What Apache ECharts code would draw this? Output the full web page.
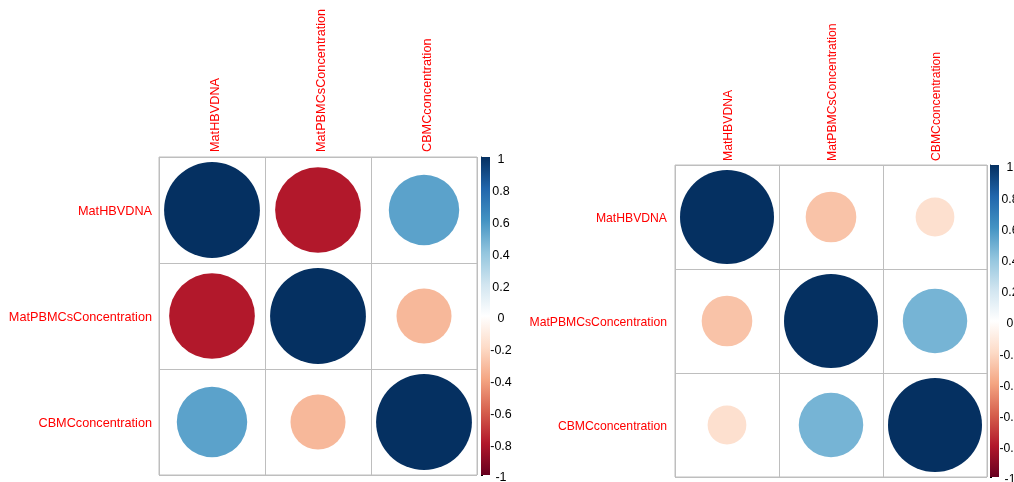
<!DOCTYPE html>
<html>
<head>
<meta charset="utf-8">
<script src="https://cdn.jsdelivr.net/npm/echarts@6/dist/echarts.min.js"></script>
<style>
  html, body { margin: 0; padding: 0; background: #ffffff; }
  #chart { width: 1014px; height: 482px; }
</style>
</head>
<body>
<div id="chart"></div>
<script>
// Variable names shared by both correlation matrices
const variables = ["MatHBVDNA", "MatPBMCsConcentration", "CBMCconcentration"];

// Correlation matrix, left panel (rows follow `variables`)
const corrLeftRow1 = [1.00, -0.80, 0.54];
const corrLeftRow2 = [-0.80, 1.00, -0.33];
const corrLeftRow3 = [0.54, -0.33, 1.00];

// Correlation matrix, right panel
const corrRightRow1 = [1.00, -0.29, -0.17];
const corrRightRow2 = [-0.29, 1.00, 0.47];
const corrRightRow3 = [-0.17, 0.47, 1.00];

// Colour-bar ticks and the diverging RdBu palette (from -1 to 1)
const colorbarMin = -1;
const colorbarMax = 1;
const colorbarStep = 0.2;
const rdBu = ["#67001F", "#B2182B", "#D6604D", "#F4A582", "#FDDBC7", "#FFFFFF",
              "#D1E5F0", "#92C5DE", "#4393C3", "#2166AC", "#053061"];

const FONT = "Liberation Sans, Arial, Helvetica, sans-serif";
const GRID_LINE = "#BEBEBE";

function toCells(rows) {
  const cells = [];
  rows.forEach((row, r) => row.forEach((v, c) => cells.push([c, r, v])));
  return cells;
}

const leftCells = toCells([corrLeftRow1, corrLeftRow2, corrLeftRow3]);
const rightCells = toCells([corrRightRow1, corrRightRow2, corrRightRow3]);

// Circle area proportional to |r|, centred in its cell
function circleItem(params, api) {
  const center = api.coord([api.value(0), api.value(1)]);
  const size = api.size([1, 1]);
  const r = 0.452 * Math.min(size[0], size[1]) * Math.sqrt(Math.abs(api.value(2)));
  return {
    type: "circle",
    shape: { cx: center[0], cy: center[1], r: r },
    style: { fill: api.visual("color") }
  };
}

// Colour bar: one gradient strip spanning the value axis
function colorbarItem(params, api) {
  const top = api.coord([0, colorbarMax]);
  const bottom = api.coord([1, colorbarMin]);
  const stops = rdBu.map((c, i) => ({ offset: 1 - i / (rdBu.length - 1), color: c }));
  return {
    type: "rect",
    shape: { x: top[0], y: top[1], width: bottom[0] - top[0], height: bottom[1] - top[1] },
    style: { fill: new echarts.graphic.LinearGradient(0, 0, 0, 1, stops.reverse()) }
  };
}

function matrixAxes(gridIndex, fontSize, xMargin, yMargin, xShift) {
  return {
    x: {
      type: "category", gridIndex: gridIndex, data: variables, position: "top",
      axisLine: { show: false }, axisTick: { show: false },
      splitLine: { show: true, lineStyle: { color: GRID_LINE, width: 1 } },
      axisLabel: {
        rotate: -90, color: "#FF0000", fontSize: fontSize, fontFamily: FONT,
        margin: xMargin, verticalAlign: "top", lineHeight: xShift, interval: 0
      }
    },
    y: {
      type: "category", gridIndex: gridIndex, data: variables, inverse: true,
      axisLine: { show: false }, axisTick: { show: false },
      splitLine: { show: true, lineStyle: { color: GRID_LINE, width: 1 } },
      axisLabel: {
        color: "#FF0000", fontSize: fontSize, fontFamily: FONT,
        margin: yMargin, verticalAlign: "top", lineHeight: 3, interval: 0
      }
    }
  };
}

function colorbarAxes(gridIndex, fontSize, margin) {
  return {
    x: { type: "value", gridIndex: gridIndex, min: 0, max: 1, show: false },
    y: {
      type: "value", gridIndex: gridIndex, min: colorbarMin, max: colorbarMax,
      interval: colorbarStep, position: "right",
      splitLine: { show: false },
      axisLine: { show: true, lineStyle: { color: "#000000", width: 1 } },
      axisTick: { show: true, length: 2, lineStyle: { color: "#000000" } },
      axisLabel: {
        color: "#000000", fontSize: fontSize, fontFamily: FONT, align: "center",
        margin: margin, verticalAlign: "top", lineHeight: 6,
        formatter: v => String(Math.round(v * 10) / 10)
      }
    }
  };
}

const leftAx = matrixAxes(0, 12.7, 5, 7, 6);
const rightAx = matrixAxes(1, 12.2, 4, 8, 4);
const leftBar = colorbarAxes(2, 12.5, 11);
const rightBar = colorbarAxes(3, 12.2, 11);

const gridStyle = { show: true, borderColor: GRID_LINE, borderWidth: 1, backgroundColor: "transparent" };
const fixedBounds = { outerBoundsMode: "none", containLabel: false };

const chart = echarts.init(document.getElementById("chart"));
chart.setOption({
  animation: false,
  backgroundColor: "#ffffff",
  grid: [
    Object.assign({ left: 159, top: 157, width: 318, height: 318 }, gridStyle, fixedBounds),
    Object.assign({ left: 675, top: 165, width: 312, height: 312 }, gridStyle, fixedBounds),
    Object.assign({ left: 481, top: 157, width: 9, height: 318 }, fixedBounds),
    Object.assign({ left: 990, top: 165, width: 9, height: 312 }, fixedBounds)
  ],
  xAxis: [leftAx.x, rightAx.x, leftBar.x, rightBar.x],
  yAxis: [leftAx.y, rightAx.y, leftBar.y, rightBar.y],
  visualMap: {
    type: "continuous", show: false, min: colorbarMin, max: colorbarMax,
    dimension: 2, seriesIndex: [0, 1], inRange: { color: rdBu }
  },
  series: [
    { type: "custom", xAxisIndex: 0, yAxisIndex: 0, data: leftCells, renderItem: circleItem },
    { type: "custom", xAxisIndex: 1, yAxisIndex: 1, data: rightCells, renderItem: circleItem },
    { type: "custom", xAxisIndex: 2, yAxisIndex: 2, data: [[0, 0]], renderItem: colorbarItem },
    { type: "custom", xAxisIndex: 3, yAxisIndex: 3, data: [[0, 0]], renderItem: colorbarItem }
  ]
});
</script>
</body>
</html>
